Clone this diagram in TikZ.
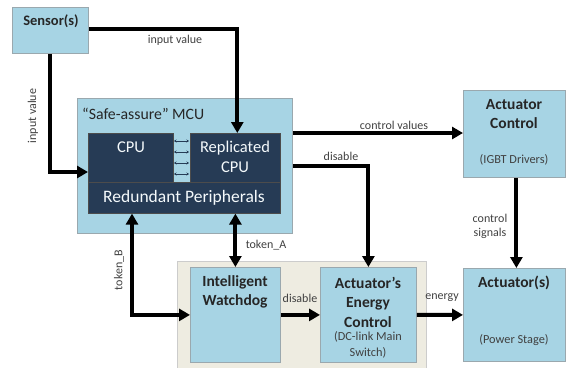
\documentclass[tikz,border=0pt]{standalone}
\usepackage{fontspec}
\setmainfont{Carlito}
\usetikzlibrary{arrows.meta}
\definecolor{lblue}{HTML}{A7D4E4}
\definecolor{navy}{HTML}{263B55}
\definecolor{beige}{HTML}{EEECE1}
\definecolor{bordergrey}{HTML}{9AA8AE}
\definecolor{lbl}{HTML}{404040}
\tikzset{
  lbox/.style={draw=bordergrey, line width=0.8bp, fill=lblue, inner sep=0pt, anchor=north west},
  dbox/.style={draw=black!70, line width=0.6bp, fill=navy, inner sep=0pt, anchor=north west},
  title/.style={font=\fontsize{15.5bp}{19.5bp}\selectfont\bfseries, text=black!85, align=center, inner sep=0pt},
  sub/.style={font=\fontsize{12.3bp}{16bp}\selectfont, text=lbl, align=center, inner sep=0pt},
  lab/.style={font=\fontsize{12bp}{14bp}\selectfont, text=lbl, align=center, inner sep=0pt},
  wtext/.style={font=\fontsize{16.5bp}{20bp}\selectfont, text=white!88!lblue, align=center, inner sep=0pt},
  bigarrow/.style={line width=4bp, -{Triangle[length=11bp,width=12bp]}},
  dblarrow/.style={line width=4bp, {Triangle[length=11bp,width=12bp]}-{Triangle[length=11bp,width=12bp]}},
  smallarrow/.style={line width=0.9bp, draw=navy, {Stealth[length=2.5bp,width=3bp]}-{Stealth[length=2.5bp,width=3bp]}}
}
\begin{document}
\begin{tikzpicture}[x=1bp,y=-1bp]
\useasboundingbox (0,0) rectangle (566,367);
% containers
\node[draw=black!20, line width=0.8bp, fill=beige, inner sep=0pt, anchor=north west, minimum width=249bp, minimum height=108bp] (env) at (177,261) {};
\node[lbox, minimum width=76bp, minimum height=46bp] (sensor) at (12,7) {};
\node[title, font=\fontsize{14.5bp}{17bp}\selectfont\bfseries] (sensorT) at (51,21) {Sensor(s)};
\node[lbox, minimum width=215bp, minimum height=135bp] (mcu) at (77,98) {};
\node[font=\fontsize{15.8bp}{18bp}\selectfont, text=black!85, anchor=west, inner sep=0pt] (mcuT) at (82,114) {“Safe-assure” MCU};
\node[dbox, minimum width=85bp, minimum height=49bp] (cpu) at (88,133) {};
\node[wtext] (cpuT) at (131,147) {CPU};
\node[dbox, minimum width=90bp, minimum height=49bp] (rep) at (190,133) {};
\node[wtext] (repT) at (235,157) {Replicated\\CPU};
\node[dbox, minimum width=192bp, minimum height=31bp] (periph) at (88,182) {};
\node[wtext, font=\fontsize{17.5bp}{20bp}\selectfont] (periphT) at (184,198) {Redundant Peripherals};
\node[lbox, minimum width=102bp, minimum height=87bp] (actctl) at (463,90) {};
\node[title] (actctlT) at (514,114) {Actuator\\Control};
\node[sub] (actctlS) at (514,160) {(IGBT Drivers)};
\node[lbox, minimum width=102bp, minimum height=93bp] (act) at (463,268) {};
\node[title] (actT) at (514,283) {Actuator(s)};
\node[sub] (actS) at (514,340) {(Power Stage)};
\node[lbox, minimum width=90bp, minimum height=95bp] (wd) at (190,267) {};
\node[title] (wdT) at (235,292) {Intelligent\\Watchdog};
\node[lbox, minimum width=96bp, minimum height=95bp] (aec) at (320,267) {};
\node[title] (aecT) at (368,302) {Actuator’s\\Energy\\Control};
\node[sub] (aecS) at (368,345) {(DC-link Main\\Switch)};
% small links between CPUs
\foreach \yy [count=\i] in {141,152,163,174} {
  \coordinate (l\i) at (174,\yy);
  \coordinate (r\i) at (189,\yy);
  \draw[smallarrow] (l\i) -- (r\i);
}
% connectors
\draw[bigarrow] (sensor.east |- 0,29) -| ([xshift=2bp]rep.north);
\node[lab] (iv1) at (175,40) {input value};
\draw[bigarrow] (sensor.south) |- (cpu.west |- 0,172);
\node[lab, rotate=90] (iv2) at (33,116) {input value};
\draw[bigarrow] (mcu.east |- 0,133) -- (actctl.west |- 0,133);
\node[lab] (cv) at (394,125) {control values};
\draw[bigarrow] (mcu.east |- 0,166) -| (aec.north);
\node[lab] (dis1) at (341,156) {disable};
\draw[bigarrow] ([xshift=2bp]actctl.south) -- ([xshift=2bp]act.north);
\node[lab] (cs) at (490,226) {control\\signals};
\draw[dblarrow] (wd.north |- periph.south) -- (wd.north);
\node[lab] (ta) at (266,245) {token\_A};
\draw[dblarrow] (periph.south -| 132,0) |- (wd.west);
\node[lab, rotate=90] (tb) at (119,270) {token\_B};
\draw[bigarrow] (wd.east) -- (aec.west);
\node[lab] (dis2) at (300,298) {disable};
\draw[bigarrow] (aec.east) -- (act.west);
\node[lab] (en) at (442,298) {energy};
\end{tikzpicture}
\end{document}
